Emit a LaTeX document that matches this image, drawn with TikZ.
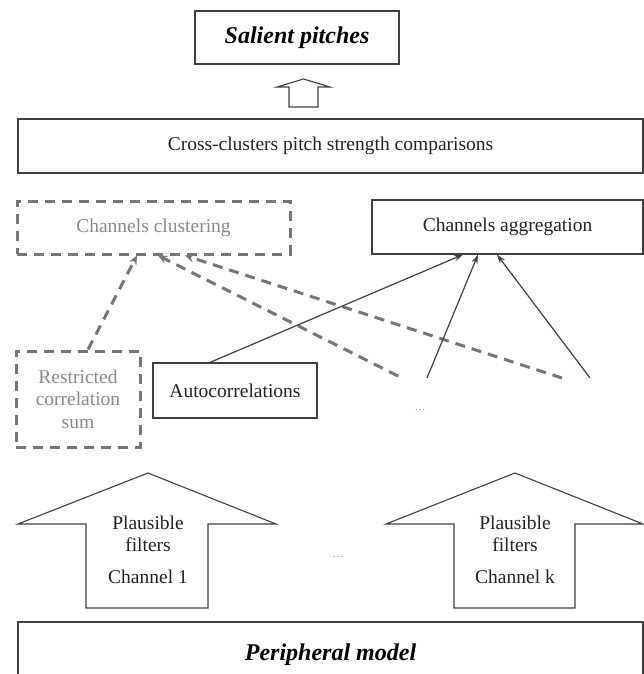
\documentclass[tikz,border=0pt]{standalone}
\usepackage{fontspec}
\setmainfont{Liberation Serif}
\usetikzlibrary{arrows.meta}
\definecolor{boxc}{HTML}{404040}
\definecolor{dashc}{HTML}{767676}
\definecolor{greytext}{HTML}{8A8A8A}
\definecolor{maintext}{HTML}{222222}
\begin{document}
\begin{tikzpicture}[x=1pt,y=-1pt,
  txt/.style={font=\fontsize{19.5}{22}\selectfont, text=maintext, inner sep=0pt},
  gtxt/.style={font=\fontsize{19.5}{22}\selectfont, text=greytext, inner sep=0pt},
  dots/.style={font=\fontsize{11}{12}\selectfont, text=greytext, inner sep=0pt},
  btxt/.style={font=\fontsize{24}{28}\selectfont\bfseries\itshape, text=black, inner sep=0pt},
  box/.style={draw=boxc, line width=1.2pt, rectangle, inner sep=0pt},
  dbox/.style={draw=dashc, line width=3pt, dash pattern=on 10pt off 7pt, rectangle, inner sep=0pt, align=center},
  blockarrow/.style={draw=boxc, line width=1.1pt, line join=miter},
  dline/.style={draw=dashc, line width=3pt, dash pattern=on 10pt off 7pt, -{Stealth[length=9pt,width=8pt]}},
  sline/.style={draw=boxc, line width=1.2pt, -{Stealth[length=9pt,width=6pt]}}
]
\useasboundingbox (0,0) rectangle (644,674);
\fill[white] (0,0) rectangle (644,674);

% boxes
\node[box, btxt, minimum width=204pt, minimum height=53pt] (sal) at (297,37.5) {Salient pitches};
\node[box, txt, minimum width=625pt, minimum height=54pt] (cross) at (330.5,146) {Cross-clusters pitch strength comparisons};
\node[dbox, gtxt, minimum width=273pt, minimum height=53pt] (clus) at (153.5,227.5) {Channels clustering};
\node[box, txt, minimum width=271pt, minimum height=54pt] (agg) at (507.5,227) {Channels aggregation};
\node[dbox, gtxt, minimum width=124pt, minimum height=96pt, text width=120pt, font=\fontsize{19.5}{22.5}\selectfont] (rcs) at (78,399) {Restricted\\correlation\\sum};
\node[box, txt, minimum width=164pt, minimum height=55pt] (auto) at (235,390.5) {Autocorrelations};
\node[box, btxt, minimum width=625pt, minimum height=66pt] (per) at (330.5,655) {Peripheral model};

% small block arrow
\draw[blockarrow] (303.5,79) -- (330,87) -- (318,87) -- (318,107) -- (289,107) -- (289,87) -- (277,87) -- cycle;

% big block arrows
\draw[blockarrow] (148,473) -- (276,524) -- (208,524) -- (208,608) -- (86,608) -- (86,524) -- (18,524) -- cycle;
\draw[blockarrow] (515,473) -- (643,524) -- (575,524) -- (575,608) -- (454,608) -- (454,524) -- (386,524) -- cycle;

\node[txt] (p1a) at (148,523) {Plausible};
\node[txt] (p1b) at (148,545) {filters};
\node[txt] (p1c) at (148,577) {Channel 1};
\node[txt] (pka) at (515,523) {Plausible};
\node[txt] (pkb) at (515,545) {filters};
\node[txt] (pkc) at (515,577) {Channel k};

\node[dots] (dotsA) at (338,557) {\ldots};
\node[dots] (dotsB) at (420,410) {\ldots};

% free ends
\coordinate (d1) at (398,376);
\coordinate (d2) at (562,378);
\coordinate (s1) at (427,378);
\coordinate (s2) at (590,378);

% dashed connectors
\draw[dline] ([xshift=10pt]rcs.north) -- ([xshift=-16.5pt]clus.south);
\draw[dline] (d1) -- ([xshift=4.5pt]clus.south);
\draw[dline] (d2) -- ([xshift=31.5pt]clus.south);

% solid connectors
\draw[sline] ([xshift=-25pt]auto.north) -- ([xshift=-44.5pt]agg.south);
\draw[sline] (s1) -- ([xshift=-29.5pt]agg.south);
\draw[sline] (s2) -- ([xshift=-10.5pt]agg.south);
\end{tikzpicture}
\end{document}
